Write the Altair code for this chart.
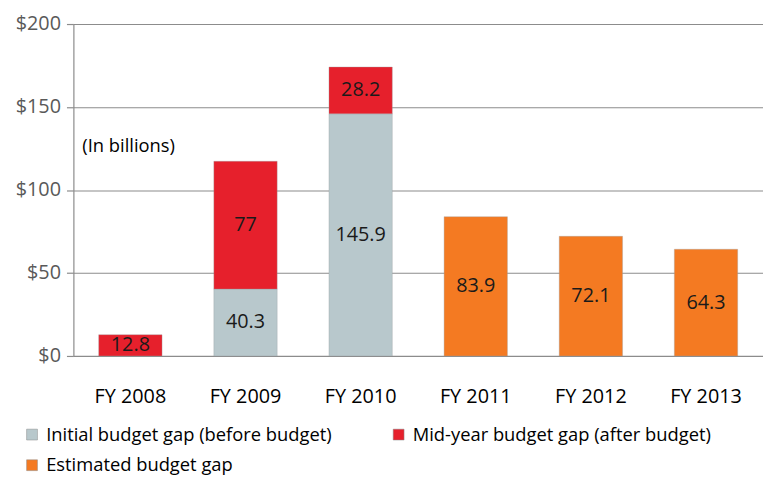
import altair as alt
import pandas as pd

years = ["FY 2008", "FY 2009", "FY 2010", "FY 2011", "FY 2012", "FY 2013"]
initial_gap = [None, 40.3, 145.9, None, None, None]
midyear_gap = [12.8, 77.0, 28.2, None, None, None]
estimated_gap = [None, None, None, 83.9, 72.1, 64.3]

series_names = [
    "Initial budget gap (before budget)",
    "Mid-year budget gap (after budget)",
    "Estimated budget gap",
]
series_colors = ["#b8c8cc", "#e6202c", "#f47a22"]
# legend is filled column by column: Initial, Estimated | Mid-year
legend_order = [series_names[0], series_names[2], series_names[1]]
legend_colors = [series_colors[0], series_colors[2], series_colors[1]]
y_ticks = [0, 50, 100, 150, 200]

rows = []
for i, yr in enumerate(years):
    for order, (name, vals) in enumerate(zip(series_names, [initial_gap, midyear_gap, estimated_gap])):
        v = vals[i]
        if v is not None:
            rows.append({"year": yr, "series": name, "value": v, "order": order,
                         "label": (f"{v:g}")})
df = pd.DataFrame(rows)

FONT = "Open Sans"

base = alt.Chart(df).encode(
    x=alt.X("year:N", sort=years, title=None,
            scale=alt.Scale(paddingInner=0.45, paddingOuter=0.22),
            axis=alt.Axis(labelAngle=0, ticks=False, domain=False, labelFontSize=20,
                          labelColor="#000000", labelFont=FONT, labelPadding=31)),
)

bars = base.mark_bar(stroke="#9aa0a2", strokeWidth=0.6, strokeOpacity=0.6).encode(
    y=alt.Y("value:Q", stack="zero", title=None,
            scale=alt.Scale(domain=[0, 200]),
            axis=alt.Axis(values=y_ticks, format="$d", labelFontSize=20, labelColor="#595959",
                          labelFont=FONT, gridColor="#8c8c8c", gridWidth=1.2,
                          domainColor="#8c8c8c", domainWidth=1.2, tickColor="#8c8c8c",
                          tickWidth=1.2, tickSize=7, labelPadding=6)),
    color=alt.Color("series:N",
                    scale=alt.Scale(domain=legend_order, range=legend_colors),
                    legend=alt.Legend(title=None, orient="none", legendX=-51, legendY=405,
                                      columns=2, columnPadding=58, rowPadding=12,
                                      symbolType="square", symbolSize=120,
                                      symbolStrokeColor="#888888", symbolStrokeWidth=0.5,
                                      labelFontSize=18.5, labelFont=FONT, labelColor="#000000",
                                      labelLimit=400, labelOffset=5)),
    order=alt.Order("order:Q"),
)

labels = base.mark_text(fontSize=20, color="#1a1a1a", font=FONT).encode(
    y=alt.Y("value:Q", stack="zero", bandPosition=0.5),
    detail="series:N",
    text="label:N",
    order=alt.Order("order:Q"),
)

note = alt.Chart(pd.DataFrame({"t": ["(In billions)"]})).mark_text(
    fontSize=18.5, font=FONT, color="#000000", align="left", baseline="middle"
).encode(x=alt.value(9), y=alt.value(123), text="t:N")

chart = alt.layer(bars, labels, note).properties(
    width=696, height=335,
    autosize=alt.AutoSizeParams(type="none"),
    padding={"left": 66, "top": 14, "right": 0, "bottom": 122},
).configure_view(stroke=None).configure_axis(grid=True).configure_axisX(grid=False)

chart.save("out.html", embed_options={"renderer": "svg", "actions": False})
